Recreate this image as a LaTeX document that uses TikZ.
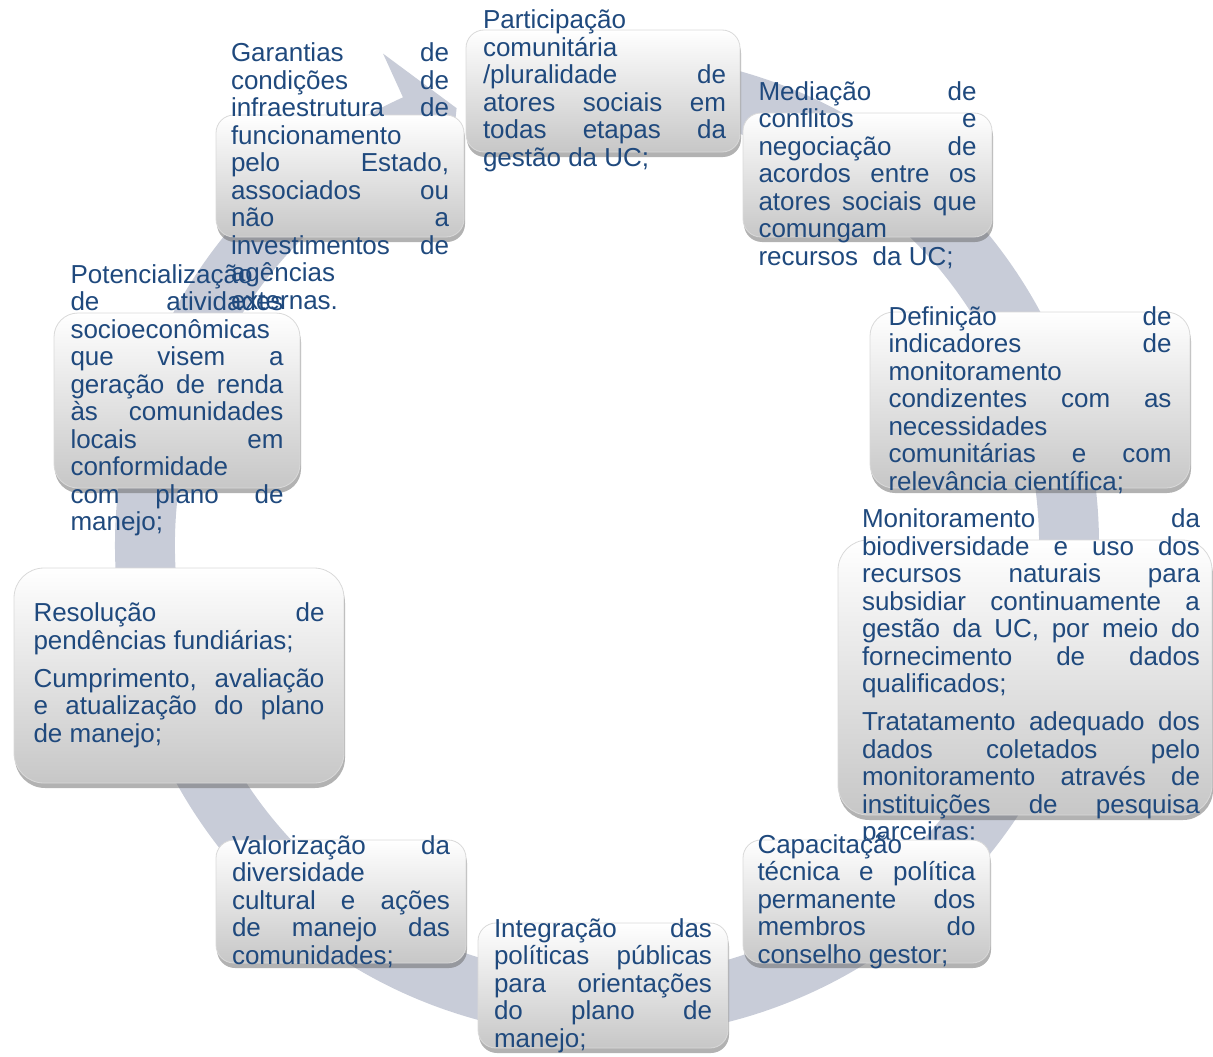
\documentclass[tikz,border=0pt]{standalone}
\usepackage{fontspec}
\setmainfont{Liberation Sans}
\usetikzlibrary{shadows}
\definecolor{cyclering}{HTML}{C8CCD8}
\definecolor{cycletext}{HTML}{1F497D}
\tolerance=10000 \hbadness=10000 \hyphenpenalty=10000
\newcommand\itemgap{\par\vspace{10.5pt}}

\begin{document}
\begin{tikzpicture}[x=1pt,y=1pt,card/.style={draw=black!15,line width=.8pt,top color=white,bottom color=black!22,drop shadow={shadow xshift=1pt,shadow yshift=-5pt,opacity=.5,fill=black!60}},txt/.style={inner sep=0pt,text=cycletext,align=justify,font=\fontsize{26}{27.5}\selectfont}]
\useasboundingbox (0,0) rectangle (1213,-1057);
% ring with its arrow head at the top left
\begin{scope}[shift={(607,-545)}]
\fill[cyclering] (86:492) arc[start angle=86,end angle=-245.5,radius=492] -- (114.5:540) -- (109:462) -- (114.5:384) -- (114.5:432) arc[start angle=-245.5,end angle=86,radius=432] -- cycle;
\end{scope}
\node[card,minimum width=274pt,minimum height=122pt,rounded corners=18pt] (part) at (603,-91) {};
\node[txt,text width=243pt] (tpart) at ([xshift=1.5pt]part.center) {Participação\break comunitária\break /pluralidade de\break atores sociais em\break todas etapas da\break gestão da UC;};
\node[card,minimum width=249pt,minimum height=124pt,rounded corners=18pt] (med) at (867.5,-175) {};
\node[txt,text width=218pt] (tmed) at (med) {Mediação de\break conflitos e\break negociação de\break acordos entre os\break atores sociais que\break comungam\break recursos\ \ da UC;};
\node[card,minimum width=320pt,minimum height=176pt,rounded corners=24pt] (ind) at (1030,-400) {};
\node[txt,text width=283pt] (tind) at (ind) {Definição de\break indicadores de\break monitoramento\break condizentes com as\break necessidades\break comunitárias e com\break relevância científica;};
\node[card,minimum width=374pt,minimum height=275pt,rounded corners=30pt] (mon) at (1025,-677.5) {};
\node[txt,text width=338pt] (tmon) at ([xshift=6pt]mon.center) {Monitoramento da\break biodiversidade e uso dos\break recursos naturais para\break subsidiar continuamente a\break gestão da UC, por meio do\break fornecimento de dados\break qualificados;\itemgap Tratatamento adequado dos\break dados coletados pelo\break monitoramento através de\break instituições de pesquisa\break parceiras;};
\node[card,minimum width=247pt,minimum height=123pt,rounded corners=18pt] (cap) at (866.5,-901.5) {};
\node[txt,text width=218pt] (tcap) at (cap) {Capacitação\break técnica e política\break permanente dos\break membros do\break conselho gestor;};
\node[card,minimum width=250pt,minimum height=125pt,rounded corners=18pt] (int) at (603,-985.5) {};
\node[txt,text width=218pt] (tint) at (int) {Integração das\break políticas públicas\break para orientações\break do plano de\break manejo;};
\node[card,minimum width=250pt,minimum height=123pt,rounded corners=18pt] (val) at (341,-901.5) {};
\node[txt,text width=218pt] (tval) at (val) {Valorização da\break diversidade\break cultural e ações\break de manejo das\break comunidades;};
\node[card,minimum width=330pt,minimum height=215pt,rounded corners=30pt] (res) at (179,-675.5) {};
\node[txt,text width=291pt] (tres) at (res) {Resolução de\break pendências fundiárias;\itemgap Cumprimento, avaliação\break e atualização do plano\break de manejo;};
\node[card,minimum width=246pt,minimum height=175pt,rounded corners=24pt] (pot) at (177,-400.5) {};
\node[txt,text width=213pt] (tpot) at (pot) {Potencialização\break de atividades\break socioeconômicas\break que visem a\break geração de renda\break às comunidades\break locais em\break conformidade\break com plano de\break manejo;};
\node[card,minimum width=248pt,minimum height=122pt,rounded corners=18pt] (gar) at (340,-176) {};
\node[txt,text width=218pt] (tgar) at (gar) {Garantias de\break condições de\break infraestrutura de\break funcionamento\break pelo Estado,\break associados ou\break não a\break investimentos de\break agências\break externas.};
\end{tikzpicture}
\end{document}
